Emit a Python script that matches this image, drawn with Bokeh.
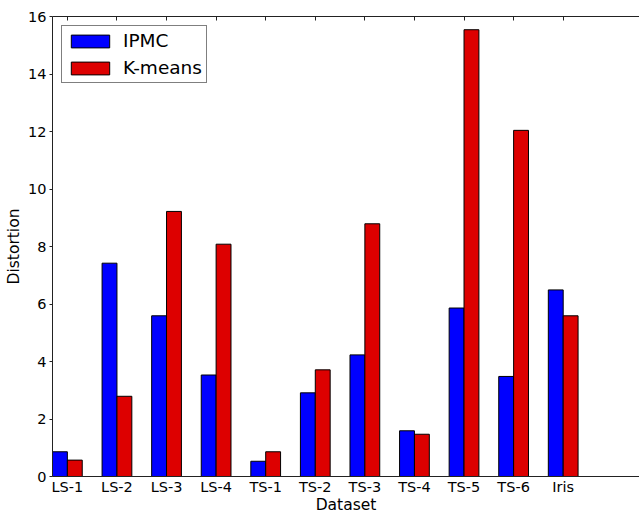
import numpy as np
from bokeh.plotting import figure
from bokeh.models import Range1d, FixedTicker, LinearAxis
from bokeh.embed import file_html
from bokeh.resources import INLINE

categories = ["LS-1", "LS-2", "LS-3", "LS-4", "TS-1", "TS-2", "TS-3", "TS-4", "TS-5", "TS-6", "Iris"]
ipmc = [0.86, 7.42, 5.59, 3.53, 0.53, 2.91, 4.23, 1.59, 5.86, 3.48, 6.49]
kmeans = [0.57, 2.79, 9.22, 8.08, 0.86, 3.71, 8.79, 1.47, 15.54, 12.04, 5.59]
y_ticks = [0, 2, 4, 6, 8, 10, 12, 14, 16]

FONT = "DejaVu Sans"
BAR_W = 0.3
idx = np.arange(len(categories))

p = figure(width=639, height=516, output_backend="svg", toolbar_location=None,
           x_range=Range1d(-0.3, 11.539), y_range=Range1d(0, 16),
           min_border_left=52, min_border_right=0, min_border_top=16, min_border_bottom=0,
           x_axis_label="Dataset", y_axis_label="Distortion")
p.outline_line_color = None
p.grid.visible = False

p.vbar(x=idx - BAR_W / 2, top=ipmc, width=BAR_W, bottom=0, fill_color="#0000ff",
       line_color="black", line_width=1, legend_label="IPMC")
p.vbar(x=idx + BAR_W / 2, top=kmeans, width=BAR_W, bottom=0, fill_color="#dd0000",
       line_color="black", line_width=1, legend_label="K-means")

AX = "#222222"
xa = p.xaxis[0]
xa.ticker = FixedTicker(ticks=list(idx))
xa.major_label_overrides = {int(i): c for i, c in zip(idx, categories)}
xa.major_tick_in = 0
xa.major_tick_out = 0
xa.minor_tick_line_color = None
xa.major_label_standoff = 2
xa.axis_label_standoff = -2
xa.major_label_text_font = FONT
xa.major_label_text_font_size = "14.5px"
xa.major_label_text_color = "black"
xa.axis_label_text_font = FONT
xa.axis_label_text_font_size = "15.5px"
xa.axis_label_text_font_style = "normal"
xa.axis_label_text_color = "black"
xa.axis_line_color = AX

ya = p.yaxis[0]
ya.ticker = FixedTicker(ticks=y_ticks)
ya.major_tick_in = 0
ya.major_tick_out = 3
ya.major_tick_line_color = AX
ya.minor_tick_line_color = None
ya.major_label_standoff = 3
ya.axis_label_standoff = 2
ya.major_label_text_font = FONT
ya.major_label_text_font_size = "14.5px"
ya.major_label_text_color = "black"
ya.axis_label_text_font = FONT
ya.axis_label_text_font_size = "15.5px"
ya.axis_label_text_font_style = "normal"
ya.axis_label_text_color = "black"
ya.axis_line_color = AX

top = LinearAxis(ticker=FixedTicker(ticks=list(idx)))
top.major_tick_in = 4
top.major_tick_out = 0
top.major_tick_line_color = AX
top.minor_tick_line_color = None
top.major_label_overrides = {int(i): "" for i in idx}
top.major_label_text_font_size = "1px"
top.major_label_standoff = 0
top.axis_line_color = AX
p.add_layout(top, "above")

lg = p.legend[0]
lg.location = "top_left"
lg.margin = 9
lg.padding = 4
lg.spacing = 6
lg.glyph_width = 48
lg.glyph_height = 16
lg.label_standoff = 9
lg.label_text_font = FONT
lg.label_text_font_size = "18.5px"
lg.label_text_color = "black"
lg.border_line_color = "black"
lg.border_line_width = 1
lg.background_fill_color = "white"
lg.background_fill_alpha = 1.0

open("out.html", "w").write(file_html(p, INLINE))
